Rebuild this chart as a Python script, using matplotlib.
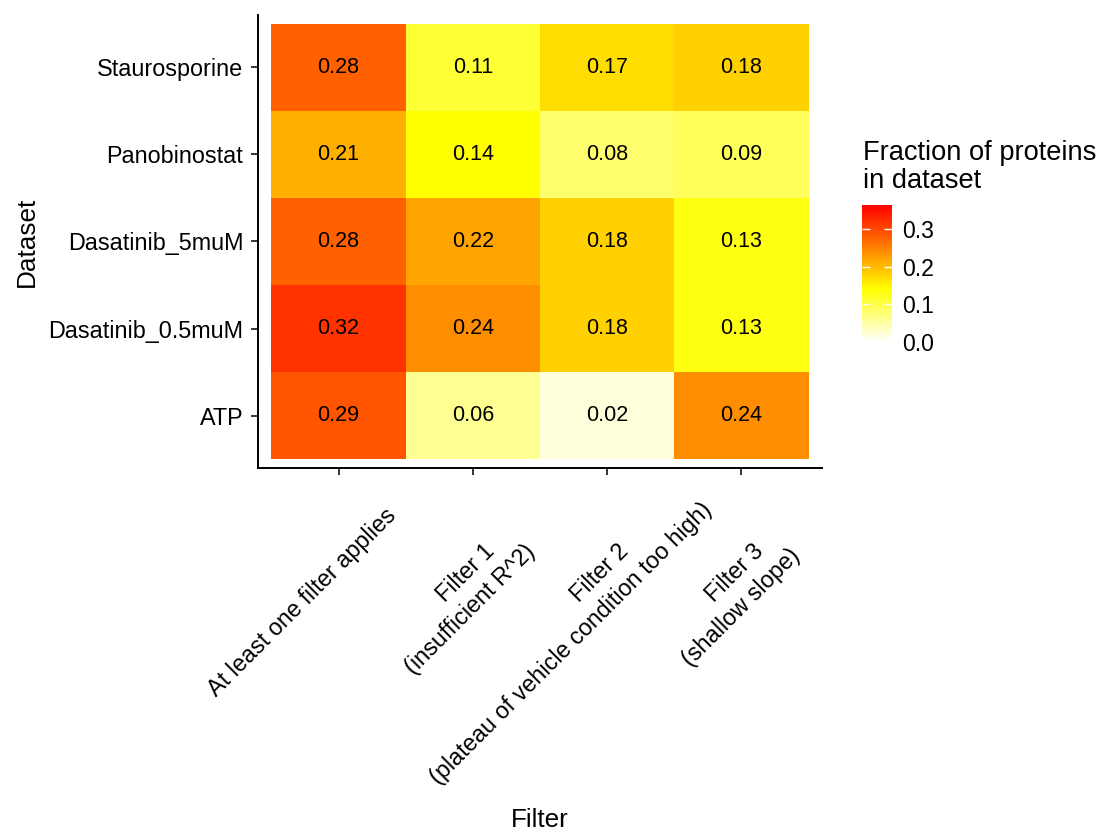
import numpy as np
import matplotlib
matplotlib.use("Agg")
import matplotlib.pyplot as plt
from matplotlib.colors import LinearSegmentedColormap, Normalize
from matplotlib.font_manager import FontProperties
from matplotlib.transforms import ScaledTranslation

families = ['Liberation Sans', 'DejaVu Sans']
plt.rcParams['font.family'] = families

# Datasets listed bottom to top, filters left to right
datasets = ['ATP', 'Dasatinib_0.5muM', 'Dasatinib_5muM', 'Panobinostat', 'Staurosporine']
filters = ['At least one filter applies',
           'Filter 1\n(insufficient R^2)',
           'Filter 2\n(plateau of vehicle condition too high)',
           'Filter 3\n(shallow slope)']

atp = [0.29, 0.06, 0.02, 0.24]
dasatinib_05 = [0.32, 0.24, 0.18, 0.13]
dasatinib_5 = [0.28, 0.22, 0.18, 0.13]
panobinostat = [0.21, 0.14, 0.08, 0.09]
staurosporine = [0.28, 0.11, 0.17, 0.18]

fractions = np.array([atp, dasatinib_05, dasatinib_5, panobinostat, staurosporine])

vmax = 0.365
cmap = LinearSegmentedColormap.from_list(
    'heat_rev', [(0.0, '#FFFFFF'), (0.14 / vmax, '#FFFF00'), (1.0, '#FF0000')])
norm = Normalize(vmin=0, vmax=vmax)

W, H = 1104, 834
fig = plt.figure(figsize=(W / 100, H / 100), dpi=100)
ax = fig.add_axes([258 / W, 1 - 468 / H, (822 - 258) / W, (468 - 15) / H])

mesh = ax.pcolormesh(np.arange(len(filters) + 1), np.arange(len(datasets) + 1),
                     fractions, cmap=cmap, norm=norm)

for i in range(len(datasets)):
    for j in range(len(filters)):
        ax.text(j + 0.5, i + 0.5, f'{fractions[i, j]:.2f}', ha='center', va='center',
                fontsize=15.5, color='black')

ax.set_xlim(-0.1, len(filters) + 0.1)
ax.set_ylim(-0.1, len(datasets) + 0.1)
ax.set_xticks(np.arange(len(filters)) + 0.5)
ax.set_xticklabels([])
ax.set_yticks(np.arange(len(datasets)) + 0.5)
ax.set_yticklabels(datasets, fontsize=16.8)
ax.tick_params(length=4.7, width=1.1, color='black', pad=6)

for side in ['top', 'right']:
    ax.spines[side].set_visible(False)
for side in ['left', 'bottom']:
    ax.spines[side].set_linewidth(1.4)

# Slanted filter labels: lines share an anchor 72% along their length
renderer = fig.canvas.get_renderer()
tick_font = FontProperties(family=families, size=16.8)
along = np.array([1.0, 1.0]) / np.sqrt(2)
down = np.array([1.0, -1.0]) / np.sqrt(2)
for j, label in enumerate(filters):
    for k, line in enumerate(label.split('\n')):
        w, _, _ = renderer.get_text_width_height_descent(line, tick_font, ismath=False)
        dx, dy = (0.28 * w - 64) * along + (76 + 29 * k) * down
        shift = ScaledTranslation(dx / fig.dpi, dy / fig.dpi, fig.dpi_scale_trans)
        ax.text(j + 0.5, 0, line, transform=ax.get_xaxis_transform() + shift,
                rotation=45, rotation_mode='anchor', ha='right', va='baseline',
                fontproperties=tick_font, clip_on=False)

fig.text(540 / W, 1 - 827 / H, 'Filter', fontsize=18.8, ha='center', va='baseline')
fig.text(34 / W, 1 - 241.5 / H, 'Dataset', fontsize=18.8, rotation=90,
         rotation_mode='anchor', ha='center', va='baseline')

# Colour bar with its two-line title
cax = fig.add_axes([862 / W, 1 - 342 / H, 30 / W, 137 / H])
cbar = fig.colorbar(mesh, cax=cax, ticks=[0.0, 0.1, 0.2, 0.3])
cbar.outline.set_visible(False)
cbar.ax.set_yticklabels(['0.0', '0.1', '0.2', '0.3'], fontsize=16.6)
cbar.ax.tick_params(direction='in', color='white', left=True, right=True,
                    length=6, width=1.0, pad=7)
fig.text(863 / W, 1 - 188 / H, 'Fraction of proteins\nin dataset',
         fontsize=19.6, ha='left', va='baseline', linespacing=1.12)

fig.savefig('out.png', dpi=100)
